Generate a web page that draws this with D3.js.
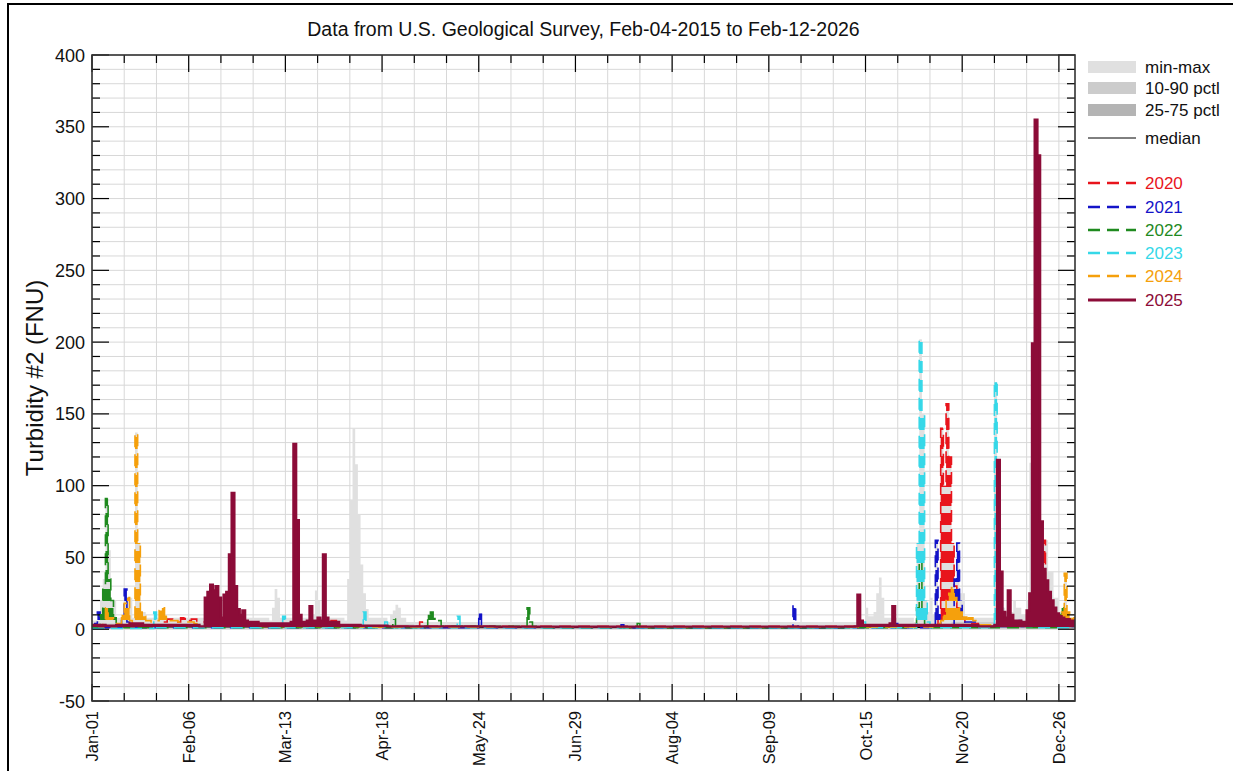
<!DOCTYPE html>
<html>
<head>
<meta charset="utf-8">
<script src="https://cdn.jsdelivr.net/npm/d3@7"></script>
<style>
  body { margin: 0; background: #fff; }
  svg text { font-family: "Liberation Sans", Arial, Helvetica, sans-serif; }
</style>
</head>
<body>
<script>
// data: [day of year, value], drawn as daily steps
const titleText = "Data from U.S. Geological Survey, Feb-04-2015 to Feb-12-2026";
const yLabel = "Turbidity #2 (FNU)";

const xTickDays = [0, 36, 72, 108, 144, 180, 216, 252, 288, 324, 360];
const xTickLabels = ["Jan-01", "Feb-06", "Mar-13", "Apr-18", "May-24", "Jun-29", "Aug-04", "Sep-09", "Oct-15", "Nov-20", "Dec-26"];
const yTicks = [-50, 0, 50, 100, 150, 200, 250, 300, 350, 400];

// min-max envelope of all years [day, min, max]
const minMax = [[0,0,6],[3,0,20],[4,0,35],[5,0,91],[6,0,55],[7,0,20],[9,0,8],[12,0,28],[13,0,22],[15,0,8],[16,0,137],[17,0,60],[18,0,12],[20,0,8],
  [66,0,6],[67,0,15],[68,0,28],[69,0,22],[70,0,8],[82,0,10],[83,0,27],[84,0,20],[85,0,8],
  [94,0,6],[95,0,35],[96,0,90],[97,0,140],[98,0,115],[99,0,80],[100,0,45],[101,0,25],[102,0,14],[103,0,8],
  [110,0,5],[111,0,10],[112,0,13],[113,0,17],[114,0,15],[115,0,8],[117,0,5],
  [287,0,5],[288,0,15],[289,0,9],[291,0,12],[292,0,25],[293,0,36],[294,0,22],[295,0,8],
  [306,0,5],[307,0,60],[308,0,202],[309,0,150],[310,0,20],[311,0,12],[312,0,22],[313,0,10],[314,0,62],[315,0,10],[316,0,140],[317,0,100],[318,0,157],[319,0,120],[320,0,60],[321,0,35],[322,0,60],[323,0,25],[325,0,8],
  [335,0,8],[336,0,172],[337,0,118],[338,0,40],[339,0,15],[340,0,12],[343,0,20],[344,0,15],[346,0,10],[348,0,20],[349,0,116],[350,0,199],[351,0,355],[352,0,330],[353,0,75],[354,0,62],[356,0,40],[358,0,22],[360,0,12],[362,0,39],[363,0,12],[364,0,8]];
const pct10_90 = [[0,0.3,4],[60,0.3,3.5],[120,0.2,2.5],[200,0.2,2],[280,0.3,3],[320,0.4,5],[350,0.4,5]];
const pct25_75 = [[0,0.8,2.6],[60,0.7,2.4],[120,0.6,1.8],[200,0.5,1.5],[280,0.6,2],[320,0.8,3],[350,0.8,3]];
const median = [[0,1.6],[60,1.5],[120,1.1],[200,0.9],[280,1.2],[320,1.8],[350,1.8]];

const y2020 = [[0,2],[20,3],[26,5],[28,7],[30,5],[33,8],[35,6],[37,7],[39,5],[43,4],[50,3],[60,3],[88,2],[89,6],[91,3],[93,2],[121,2],[122,5],[123,2],
  [314,2],[315,10],[316,140],[317,100],[318,157],[319,120],[320,60],[321,30],[322,15],[323,8],[325,4],[330,2],[351,2],[352,20],[353,15],[354,62],[355,30],[356,12],[358,5],[362,3]];
const y2021 = [[0,1],[1,4],[2,12],[3,3],[5,1],[11,6],[12,28],[13,5],[14,1],[143,1],[144,11],[145,1],[196,1],[197,3],[198,1],[260,1],[261,17],[262,2],[263,1],
  [298,1],[299,4],[300,1],[313,2],[314,62],[315,10],[316,3],[320,2],[321,35],[322,60],[323,20],[324,5],[330,2],[341,2],[342,10],[343,6],[346,2],[352,8],[353,3],[356,2]];
const y2022 = [[0,1],[2,3],[3,10],[4,30],[5,91],[6,35],[7,20],[8,8],[9,3],[12,1],[111,1],[112,7],[113,1],[124,2],[125,10],[126,12],[127,8],[128,6],[130,2],
  [161,1],[162,15],[163,5],[164,2],[166,1],[202,1],[203,4],[204,1],[306,1],[307,15],[308,48],[309,10],[310,2],[312,1],[359,2],[360,10],[361,15],[362,8],[364,3]];
const y2023 = [[0,0.5],[22,0.5],[23,12],[24,1],[70,1],[71,9],[72,1],[100,1],[101,12],[102,2],[103,1],[109,5],[110,1],[135,1],[136,9],[137,1],
  [286,1],[287,5],[288,1],[306,1],[307,60],[308,202],[309,150],[310,20],[311,5],[312,1],[335,1],[336,172],[337,100],[338,15],[339,8],[342,5],[344,3],[348,2],[352,1]];
const y2024 = [[0,3],[4,5],[5,15],[6,8],[8,4],[11,10],[12,18],[13,22],[14,6],[15,4],[16,137],[17,60],[18,12],[19,9],[20,6],[22,5],[24,6],[25,13],[26,15],[27,9],[28,6],[32,5],[38,4],[44,3],[60,2],[100,1.5],
  [313,2],[315,4],[316,6],[317,10],[318,20],[319,25],[320,29],[321,22],[322,15],[323,12],[324,9],[326,8],[328,6],[330,3],[345,3],[355,4],[358,6],[360,10],[361,12],[362,39],[363,12],[364,8]];
const y2025 = [[0,3],[5,2.5],[9,3],[14,4],[19,3],[31,3],[40,2],[42,22],[43,26],[44,31],[45,27],[46,30],[47,22],[48,8],[49,24],[50,26],[51,52],[52,95],[53,30],[54,14],[55,10],[56,13],[57,6],[58,5],[62,4],[70,4],
  [74,5],[75,129],[76,76],[77,10],[78,5],[80,6],[81,16],[82,6],[84,8],[85,6],[86,52],[87,8],[88,5],[92,3],[100,2.5],[110,2],[130,2],[150,1.8],[200,1.8],
  [284,2],[285,24],[286,6],[287,3],[297,4],[298,16],[299,3],[310,3],[320,3],[330,2],[336,3],[337,118],[338,40],[339,12],[340,8],[341,27],[342,10],[343,6],[346,5],
  [348,13],[349,25],[350,199],[351,355],[352,330],[353,75],[354,42],[355,34],[356,26],[357,20],[358,15],[359,11],[360,9],[361,8],[362,7],[364,6]];

const years = [
  {name: "2020", data: y2020, color: "#e8141c", dash: "12,7"},
  {name: "2021", data: y2021, color: "#1414c8", dash: "12,7"},
  {name: "2022", data: y2022, color: "#1f8a1f", dash: "12,7"},
  {name: "2023", data: y2023, color: "#36d8e8", dash: "12,7"},
  {name: "2024", data: y2024, color: "#f5a00c", dash: "12,7"},
  {name: "2025", data: y2025, color: "#8c0c38", dash: null}
];

const W = 1233, H = 771;
const pLeft = 92, pRight = 1075, pTop = 55, pBottom = 701;

const svg = d3.select("body").append("svg")
  .attr("width", W).attr("height", H);
const defs = svg.append("defs");

// outer frame
svg.append("rect").attr("x", 8).attr("y", 4).attr("width", W + 20).attr("height", H + 20)
  .attr("fill", "none").attr("stroke", "#000").attr("stroke-width", 2);

const x = d3.scaleLinear().domain([0, 366]).range([pLeft, pRight]);
const y = d3.scaleLinear().domain([-50, 400]).range([pBottom, pTop]);

// grid
const gridX = d3.range(0, 366, 12);
const gridY = d3.range(-50, 401, 10);
svg.append("g").selectAll("line").data(gridX).join("line")
  .attr("x1", d => x(d)).attr("x2", d => x(d)).attr("y1", pTop).attr("y2", pBottom)
  .attr("stroke", "#d8d8d8").attr("stroke-width", 1);
svg.append("g").selectAll("line").data(gridY).join("line")
  .attr("y1", d => y(d)).attr("y2", d => y(d)).attr("x1", pLeft).attr("x2", pRight)
  .attr("stroke", "#d8d8d8").attr("stroke-width", 1);

defs.append("clipPath").attr("id", "clip")
  .append("rect").attr("x", pLeft).attr("y", pTop).attr("width", pRight - pLeft).attr("height", pBottom - pTop);

const plot = svg.append("g").attr("clip-path", "url(#clip)");

function ext(arr) { return arr.concat([[366].concat(arr[arr.length - 1].slice(1))]); }

const band = d3.area().curve(d3.curveStepAfter)
  .x(d => x(d[0])).y0(d => y(d[1])).y1(d => y(d[2]));
plot.append("path").datum(ext(minMax)).attr("d", band).attr("fill", "#e0e0e0");
plot.append("path").datum(ext(pct10_90)).attr("d", band).attr("fill", "#cccccc");
plot.append("path").datum(ext(pct25_75)).attr("d", band).attr("fill", "#b4b4b4");

const line = d3.line().curve(d3.curveStepAfter).x(d => x(d[0])).y(d => y(d[1]));
plot.append("path").datum(ext(median)).attr("d", line)
  .attr("fill", "none").attr("stroke", "#000").attr("stroke-width", 1);

// the sub-daily record fills each day's column, so the steps are filled down to the baseline
const fillArea = d3.area().curve(d3.curveStepAfter)
  .x(d => x(d[0])).y0(d => y(Math.min(d[1], 1.5))).y1(d => y(d[1]));

years.forEach(s => {
  let fill = s.color;
  if (s.dash) {
    const pat = defs.append("pattern").attr("id", "p" + s.name)
      .attr("patternUnits", "userSpaceOnUse").attr("width", 8).attr("height", 19);
    pat.append("rect").attr("width", 8).attr("height", 12).attr("fill", s.color);
    fill = "url(#p" + s.name + ")";
  }
  plot.append("path").datum(ext(s.data)).attr("d", fillArea).attr("fill", fill);
  plot.append("path").datum(ext(s.data)).attr("d", line)
    .attr("fill", "none").attr("stroke", s.color)
    .attr("stroke-width", s.dash ? 1.6 : 2.4)
    .attr("stroke-dasharray", s.dash);
});

// axes: inward ticks on all four sides
const majorX = d3.range(0, 366, 36), minorX = gridX.filter(d => d % 36 !== 0);
const minorY = gridY.filter(d => d % 50 !== 0);
const ax = svg.append("g").attr("stroke", "#000");
function ticksX(vals, len) {
  ax.append("g").selectAll("line").data(vals).join("line")
    .attr("x1", d => x(d)).attr("x2", d => x(d)).attr("y1", pBottom).attr("y2", pBottom - len).attr("stroke-width", 1.2);
  ax.append("g").selectAll("line").data(vals).join("line")
    .attr("x1", d => x(d)).attr("x2", d => x(d)).attr("y1", pTop).attr("y2", pTop + len).attr("stroke-width", 1.2);
}
function ticksY(vals, len) {
  ax.append("g").selectAll("line").data(vals).join("line")
    .attr("y1", d => y(d)).attr("y2", d => y(d)).attr("x1", pLeft).attr("x2", pLeft + len).attr("stroke-width", 1.2);
  ax.append("g").selectAll("line").data(vals).join("line")
    .attr("y1", d => y(d)).attr("y2", d => y(d)).attr("x1", pRight).attr("x2", pRight - len).attr("stroke-width", 1.2);
}
ticksX(majorX, 17); ticksX(minorX, 8);
ticksY(yTicks, 17); ticksY(minorY, 8);

svg.append("rect").attr("x", pLeft).attr("y", pTop).attr("width", pRight - pLeft).attr("height", pBottom - pTop)
  .attr("fill", "none").attr("stroke", "#333").attr("stroke-width", 1.6);

// tick labels
svg.append("g").selectAll("text").data(yTicks).join("text")
  .attr("x", pLeft - 7).attr("y", d => y(d) + 6.5)
  .attr("text-anchor", "end").attr("font-size", 18).attr("fill", "#111")
  .text(d => d);

svg.append("g").selectAll("text").data(xTickDays).join("text")
  .attr("transform", (d, i) => "translate(" + (x(d) + 6) + "," + (pBottom + 10) + ") rotate(-90)")
  .attr("text-anchor", "end").attr("font-size", 16.5).attr("fill", "#111")
  .text((d, i) => xTickLabels[i]);

// title & y label
svg.append("text").attr("x", (pLeft + pRight) / 2).attr("y", 36)
  .attr("text-anchor", "middle").attr("font-size", 19.5).attr("fill", "#111").text(titleText);
svg.append("text").attr("transform", "translate(43," + (pTop + pBottom) / 2 + ") rotate(-90)")
  .attr("text-anchor", "middle").attr("font-size", 24).attr("fill", "#111").text(yLabel);

// legend
const lg = svg.append("g");
const bandsLeg = [["min-max", "#e0e0e0", 67], ["10-90 pctl", "#cccccc", 88], ["25-75 pctl", "#b4b4b4", 110]];
bandsLeg.forEach(b => {
  lg.append("rect").attr("x", 1088).attr("y", b[2] - 6).attr("width", 48).attr("height", 12).attr("fill", b[1]);
  lg.append("text").attr("x", 1145).attr("y", b[2] + 6).attr("font-size", 17).attr("fill", "#111").text(b[0]);
});
lg.append("line").attr("x1", 1088).attr("x2", 1136).attr("y1", 138).attr("y2", 138).attr("stroke", "#000").attr("stroke-width", 1);
lg.append("text").attr("x", 1145).attr("y", 144).attr("font-size", 17).attr("fill", "#111").text("median");
const legY = [183, 207, 230, 253, 276, 300];
years.forEach((s, i) => {
  lg.append("line").attr("x1", 1088).attr("x2", 1136).attr("y1", legY[i]).attr("y2", legY[i])
    .attr("stroke", s.color).attr("stroke-width", s.dash ? 2.6 : 3.2).attr("stroke-dasharray", s.dash);
  lg.append("text").attr("x", 1145).attr("y", legY[i] + 6).attr("font-size", 17).attr("fill", s.color).text(s.name);
});
</script>
</body>
</html>
